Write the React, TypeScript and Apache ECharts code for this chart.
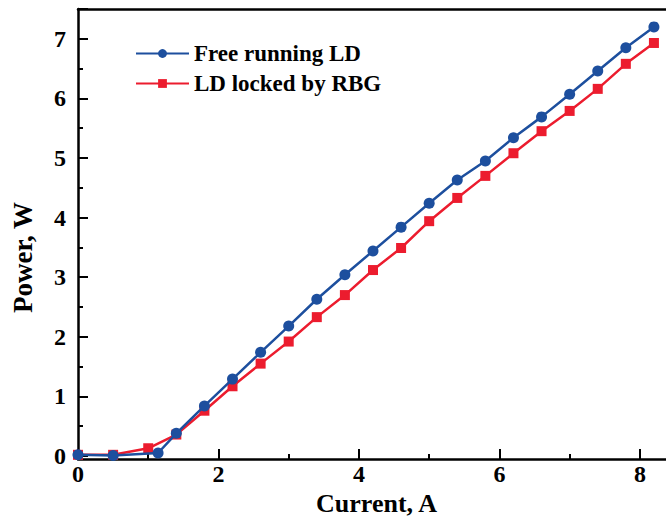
import React, { useEffect, useRef } from "react";
import * as echarts from "echarts";

const currentFree = [0, 0.5, 1.14, 1.4, 1.8, 2.2, 2.6, 3.0, 3.4, 3.8, 4.2, 4.6, 5.0, 5.4, 5.8, 6.2, 6.6, 7.0, 7.4, 7.8, 8.2];
const powerFree = [0.02, 0.01, 0.05, 0.38, 0.84, 1.29, 1.74, 2.18, 2.63, 3.04, 3.44, 3.84, 4.24, 4.63, 4.95, 5.34, 5.69, 6.07, 6.46, 6.85, 7.2];

const currentLocked = [0, 0.5, 1.0, 1.4, 1.8, 2.2, 2.6, 3.0, 3.4, 3.8, 4.2, 4.6, 5.0, 5.4, 5.8, 6.2, 6.6, 7.0, 7.4, 7.8, 8.2];
const powerLocked = [0.02, 0.02, 0.13, 0.36, 0.76, 1.17, 1.55, 1.92, 2.33, 2.7, 3.12, 3.49, 3.94, 4.33, 4.7, 5.08, 5.45, 5.79, 6.16, 6.58, 6.93];

const seriesNames = ["Free running LD", "LD locked by RBG"];
const xTitle = "Current, A";
const yTitle = "Power, W";

const FONT = "Liberation Serif";
const BLUE = "#1d4f9e";
const RED = "#ec1c2e";

export default function App() {
  const ref = useRef<HTMLDivElement>(null);
  useEffect(() => {
    if (!ref.current) return;
    const chart = echarts.init(ref.current, undefined, { renderer: "svg" });
    const pair = (xs: number[], ys: number[]) => xs.map((x, i) => [x, ys[i]]);
    chart.setOption({
      animation: false,
      backgroundColor: "#ffffff",
      grid: { left: 78, top: 9, right: -9, bottom: 63, containLabel: false, outerBoundsMode: "none" },
      legend: {
        left: 130,
        top: 37,
        orient: "vertical",
        itemWidth: 53,
        itemHeight: 11,
        itemGap: 7,
        textStyle: { fontFamily: FONT, fontWeight: "bold", fontSize: 23, color: "#000" },
        data: seriesNames,
      },
      xAxis: [
        {
          type: "value",
          min: 0,
          max: 8.5,
          interval: 2,
          offset: 3,
          name: xTitle,
          nameLocation: "middle",
          nameGap: 27,
          nameTextStyle: { fontFamily: FONT, fontWeight: "bold", fontSize: 26, color: "#000" },
          axisLine: { show: true, onZero: false, lineStyle: { color: "#000", width: 2.5 } },
          axisTick: { show: true, inside: true, length: 10, lineStyle: { color: "#000", width: 2 } },
          minorTick: { show: true, splitNumber: 2, length: 5, lineStyle: { color: "#000", width: 2 } },
          axisLabel: {
            margin: 3,
            showMaxLabel: false,
            fontFamily: FONT,
            fontWeight: "bold",
            fontSize: 24,
            color: "#000",
          },
          splitLine: { show: false },
        },
        {
          type: "value",
          position: "top",
          min: 0,
          max: 8.5,
          axisLine: { show: true, onZero: false, lineStyle: { color: "#000", width: 2.5 } },
          axisTick: { show: false },
          axisLabel: { show: false },
          splitLine: { show: false },
        },
      ],
      yAxis: {
        type: "value",
        min: 0,
        max: 7.5,
        interval: 1,
        name: yTitle,
        nameLocation: "middle",
        nameGap: 42,
        nameRotate: 90,
        nameTextStyle: {
          fontFamily: FONT,
          fontWeight: "bold",
          fontSize: 27,
          color: "#000",
          padding: [0, 50, 0, 0],
        },
        axisLine: { show: true, onZero: false, lineStyle: { color: "#000", width: 2.5 } },
        axisTick: { show: true, inside: true, length: 10, lineStyle: { color: "#000", width: 2 } },
        minorTick: { show: true, splitNumber: 2, length: 5, lineStyle: { color: "#000", width: 2 } },
        axisLabel: {
          margin: 12,
          showMaxLabel: false,
          fontFamily: FONT,
          fontWeight: "bold",
          fontSize: 24,
          color: "#000",
        },
        splitLine: { show: false },
      },
      series: [
        {
          name: seriesNames[0],
          type: "line",
          data: pair(currentFree, powerFree),
          symbol: "circle",
          symbolSize: 11,
          color: BLUE,
          lineStyle: { color: BLUE, width: 2.5 },
          itemStyle: { color: BLUE },
          z: 3,
        },
        {
          name: seriesNames[1],
          type: "line",
          data: pair(currentLocked, powerLocked),
          symbol: "rect",
          symbolSize: 10,
          color: RED,
          lineStyle: { color: RED, width: 2.5 },
          itemStyle: { color: RED },
          z: 2,
        },
      ],
    });
    return () => chart.dispose();
  }, []);
  return (
    <div
      ref={ref}
      style={{ position: "fixed", left: 0, top: 0, width: 666, height: 519, background: "#fff" }}
    />
  );
}
